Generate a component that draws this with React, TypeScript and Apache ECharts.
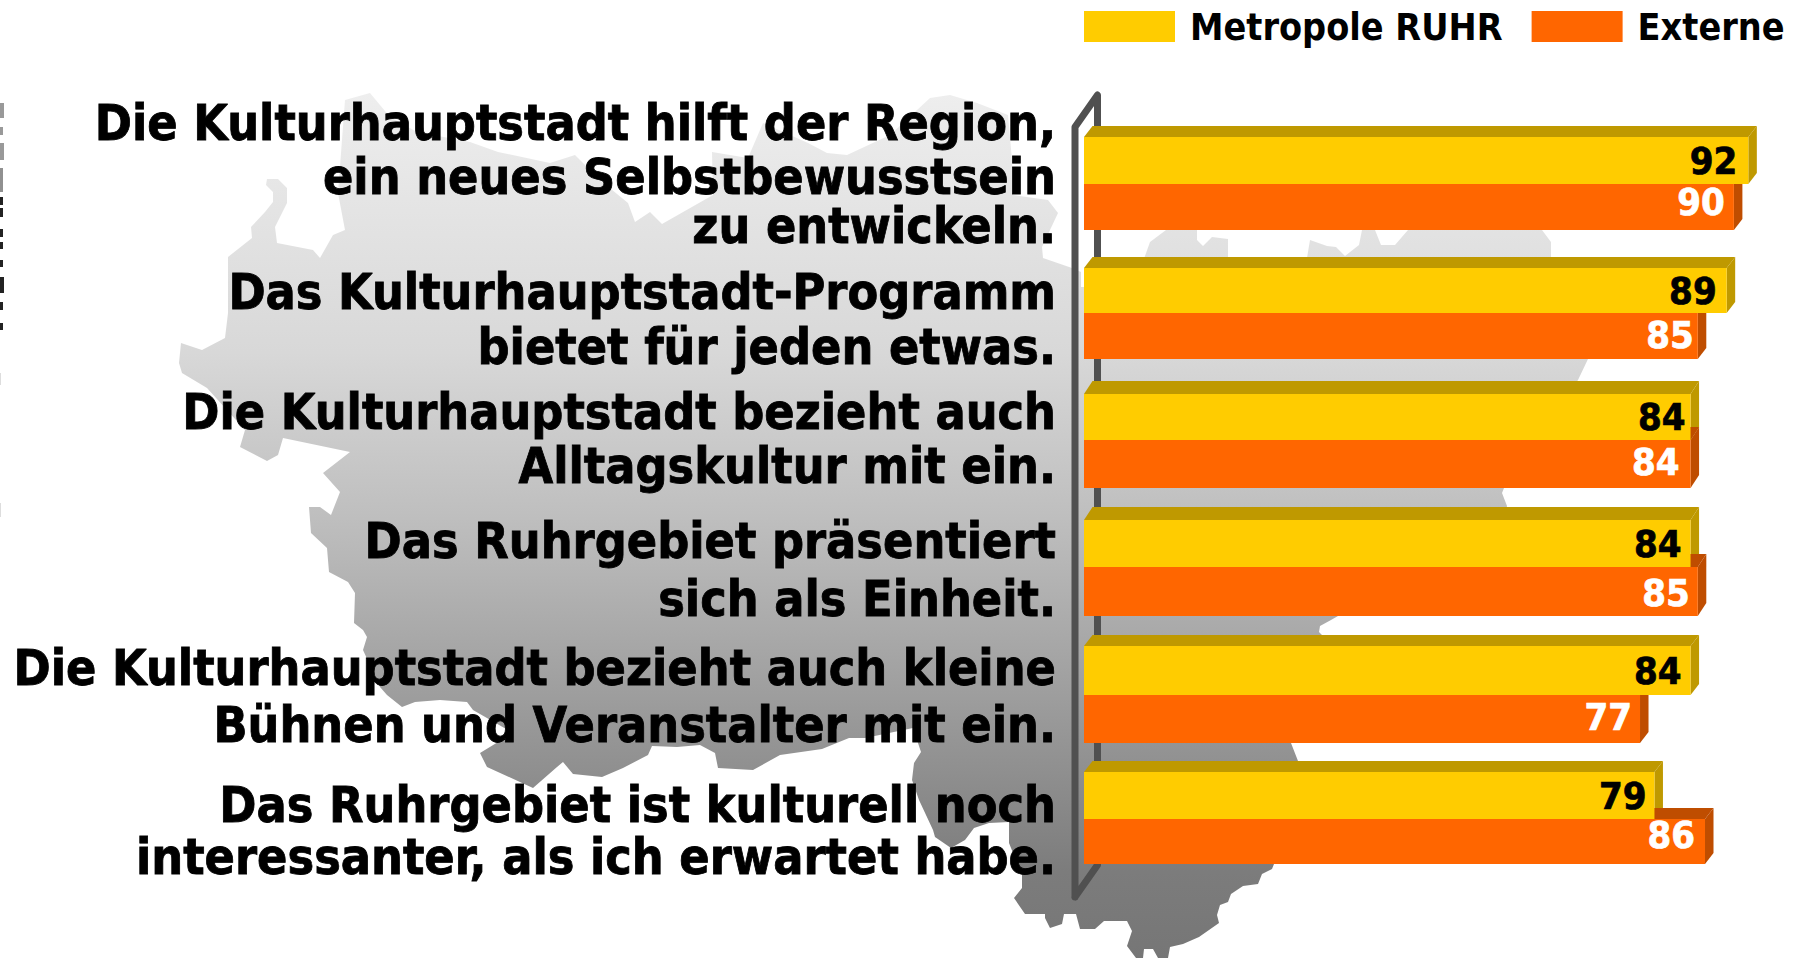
import React, { useEffect, useRef } from "react";
import * as echarts from "echarts";

const seriesNames = ["Metropole RUHR", "Externe"];
const categories = [
  ["Die Kulturhauptstadt hilft der Region,", "ein neues Selbstbewusstsein", "zu entwickeln."],
  ["Das Kulturhauptstadt-Programm", "bietet für jeden etwas."],
  ["Die Kulturhauptstadt bezieht auch", "Alltagskultur mit ein."],
  ["Das Ruhrgebiet präsentiert", "sich als Einheit."],
  ["Die Kulturhauptstadt bezieht auch kleine", "Bühnen und Veranstalter mit ein."],
  ["Das Ruhrgebiet ist kulturell noch", "interessanter, als ich erwartet habe."],
];
const metropole = [92, 89, 84, 84, 84, 79];
const externe = [90, 85, 84, 85, 77, 86];

// layout only
const lineBaselines = [[141, 195, 244], [310, 365], [430, 484], [559, 617], [686, 743], [823, 875]];
const rowNudge = [0, 2, 2, 2, 3, 0];
const upperHeight = [47, 45, 46, 47, 49, 47];
const lowerHeight = [46, 46, 48, 49, 48, 45];
const rowDepth = [11, 11, 13, 13, 11, 11];
const orangeLabelNudge = [-5, -1, -2, 1, -2, -7];
const yellowLabelX = [0, 1, 6, 2, 2, 3];
const orangeLabelX = [-2, 3, -4, -1, -1, -3];

const mapOutline: number[][] = [
  [370, 93], [390, 117], [417, 132], [470, 142], [498, 152], [550, 163], [575, 155], [600, 180], [628, 203], [635, 222], [650, 212], [662, 224], [713, 195], [712, 152], [748, 158], [763, 123], [808, 143], [827, 153], [847, 155], [890, 135], [930, 98], [950, 95], [977, 103], [1008, 115], [1012, 160], [1013, 195], [1048, 200], [1058, 213], [1042, 247], [1043, 258], [1072, 268], [1081, 272], [1081, 287], [1100, 287], [1140, 270], [1150, 242], [1166, 230], [1197, 230], [1197, 240], [1203, 246], [1212, 237], [1228, 239], [1228, 270], [1305, 270], [1310, 240], [1327, 246], [1336, 247], [1345, 256], [1359, 245], [1362, 230], [1375, 230], [1381, 245], [1395, 245], [1408, 230], [1542, 230], [1551, 242], [1551, 300], [1588, 359], [1578, 380], [1504, 488], [1502, 493], [1507, 506], [1490, 600], [1338, 616], [1331, 620], [1320, 626], [1319, 632], [1322, 635], [1280, 700], [1291, 743], [1298, 761], [1280, 850], [1274, 864], [1272, 869], [1262, 874], [1258, 884], [1243, 886], [1231, 894], [1228, 902], [1220, 905], [1217, 915], [1219, 923], [1199, 937], [1183, 944], [1170, 947], [1168, 958], [1158, 958], [1153, 949], [1144, 949], [1143, 958], [1136, 958], [1127, 946], [1132, 931], [1127, 921], [1104, 921], [1095, 929], [1080, 929], [1076, 914], [1064, 914], [1062, 924], [1050, 928], [1045, 918], [1045, 914], [1025, 914], [1014, 898], [1022, 888], [1022, 875], [1009, 843], [1009, 822], [989, 823], [974, 828], [965, 840], [951, 848], [935, 837], [933, 830], [919, 800], [912, 780], [914, 763], [921, 752], [913, 728], [865, 738], [849, 738], [822, 749], [780, 755], [753, 770], [718, 768], [715, 753], [700, 745], [677, 747], [652, 746], [648, 755], [623, 768], [602, 777], [573, 774], [563, 762], [557, 767], [533, 788], [487, 767], [480, 753], [513, 733], [473, 710], [467, 702], [440, 700], [415, 702], [402, 707], [387, 695], [380, 687], [363, 650], [367, 637], [363, 630], [354, 623], [355, 593], [348, 582], [329, 572], [327, 548], [311, 533], [309, 507], [320, 507], [331, 515], [340, 492], [323, 473], [350, 452], [283, 438], [278, 455], [267, 461], [240, 447], [245, 430], [207, 388], [182, 373], [179, 363], [181, 343], [202, 350], [225, 338], [228, 313], [228, 257], [252, 238], [251, 227], [265, 212], [273, 202], [273, 192], [266, 185], [267, 179], [278, 179], [287, 188], [287, 203], [275, 227], [277, 243], [313, 250], [320, 258], [333, 235], [345, 230], [338, 193], [345, 100],
];

const edgeMarks: number[][] = [
  [103, 15, 4, 0x99], [127, 8, 3, 0x99], [143, 17, 4, 0x99], [168, 24, 3, 0x90], [197, 8, 3, 0x22], [208, 9, 3, 0x22], [229, 8, 3, 0x22], [242, 7, 3, 0x22], [260, 7, 3, 0x22], [277, 16, 4, 0x22], [302, 8, 3, 0x22], [323, 7, 3, 0x22], [373, 12, 1, 0xdd], [503, 14, 1, 0xdd],
];

const FONT = '"DejaVu Sans Condensed", "DejaVu Sans", sans-serif';
const YELLOW = "#FFCC00";
const YELLOW_SIDE = "#BF9900";
const ORANGE = "#FF6600";
const ORANGE_SIDE = "#BF4D00";
const DX = 8.5;

function barRenderer(up: boolean, front: string, side: string, textColor: string) {
  return (params: any, api: any) => {
    const value = api.value(0);
    const idx = api.value(1);
    const end = api.coord([value, idx]);
    const start = api.coord([0, idx]);
    const mid = end[1] + rowNudge[idx];
    const y0 = up ? mid - upperHeight[idx] : mid;
    const y1 = up ? mid : mid + lowerHeight[idx];
    const x0 = start[0];
    const x1 = end[0];
    const DY = rowDepth[idx];
    const depthZ = up ? 1 : 2;
    const frontZ = up ? 3 : 4;
    const labelY = up ? (y0 + y1) / 2 : (y0 + y1) / 2 + orangeLabelNudge[idx];
    const labelX = x1 - (up ? 11 : 7) + (up ? yellowLabelX[idx] : orangeLabelX[idx]);
    return {
      type: "group",
      children: [
        { type: "polygon", z2: depthZ, shape: { points: [[x0, y0], [x0 + DX, y0 - DY], [x1 + DX, y0 - DY], [x1, y0]] }, style: { fill: side } },
        { type: "polygon", z2: depthZ, shape: { points: [[x1, y0], [x1 + DX, y0 - DY], [x1 + DX, y1 - DY], [x1, y1]] }, style: { fill: side } },
        { type: "rect", z2: frontZ, shape: { x: x0, y: y0, width: x1 - x0, height: y1 - y0 }, style: { fill: front } },
        {
          type: "text",
          z2: 6,
          style: {
            text: String(value),
            x: labelX,
            y: labelY,
            align: "right",
            verticalAlign: "middle",
            fill: textColor,
            stroke: textColor,
            lineWidth: 0.7,
            font: `bold 38px ${FONT}`,
            lineHeight: 30,
          },
        },
      ],
    };
  };
}

export default function App() {
  const ref = useRef<HTMLDivElement>(null);
  useEffect(() => {
    const chart = echarts.init(ref.current!, undefined, { renderer: "svg" });
    const labelTexts: any[] = [];
    categories.forEach((lines, i) =>
      lines.forEach((line, j) =>
        labelTexts.push({
          type: "text",
          x: 1056,
          y: lineBaselines[i][j] - 18,
          style: {
            text: line,
            align: "right",
            verticalAlign: "middle",
            fill: "#000",
            stroke: "#000",
            lineWidth: 0.8,
            font: `bold 49.8px ${FONT}`,
            lineHeight: 40,
          },
        })
      )
    );
    chart.setOption({
      animation: false,
      backgroundColor: "#fff",
      legend: {
        left: 1079,
        top: 3,
        itemWidth: 91,
        itemHeight: 31,
        itemGap: 29,
        icon: "rect",
        data: seriesNames,
        textStyle: { fontFamily: FONT, fontWeight: "bold", fontSize: 37.4, color: "#000", padding: [0, 0, 3, 10] },
      },
      grid: { left: 1084, top: 120.5, width: 686, height: 762 },
      xAxis: { type: "value", min: 0, max: 95, show: false },
      yAxis: { type: "category", inverse: true, show: false, data: categories.map((c) => c.join(" ")) },
      graphic: [
        {
          type: "polygon",
          shape: { points: mapOutline },
          style: {
            fill: new echarts.graphic.LinearGradient(0, 0, 0, 1, [
              { offset: 0, color: "#eeeeee" },
              { offset: 0.3, color: "#d8d8d8" },
              { offset: 0.5, color: "#bdbdbd" },
              { offset: 0.7, color: "#9d9d9d" },
              { offset: 0.9, color: "#7c7c7c" },
              { offset: 1, color: "#767676" },
            ]),
          },
        },
        ...edgeMarks.map(([y, h, w, g]) => ({
          type: "rect",
          shape: { x: 0, y, width: w, height: h },
          style: { fill: `rgb(${g},${g},${g})` },
        })),
        {
          type: "polyline",
          shape: { points: [[1075, 897], [1075, 127], [1097.5, 95], [1097.5, 865], [1075, 897]] },
          style: { stroke: "#505050", lineWidth: 7, lineJoin: "round", lineCap: "round", fill: "none" },
        },
        ...labelTexts,
      ],
      series: [
        {
          name: seriesNames[0],
          type: "custom",
          silent: true,
          itemStyle: { color: YELLOW },
          renderItem: barRenderer(true, YELLOW, YELLOW_SIDE, "#000"),
          encode: { x: 0, y: 1 },
          data: metropole.map((v, i) => [v, i]),
        },
        {
          name: seriesNames[1],
          type: "custom",
          silent: true,
          itemStyle: { color: ORANGE },
          renderItem: barRenderer(false, ORANGE, ORANGE_SIDE, "#fff"),
          encode: { x: 0, y: 1 },
          data: externe.map((v, i) => [v, i]),
        },
      ],
    });
    return () => chart.dispose();
  }, []);
  return <div ref={ref} style={{ position: "fixed", left: 0, top: 0, width: 1803, height: 959 }} />;
}
